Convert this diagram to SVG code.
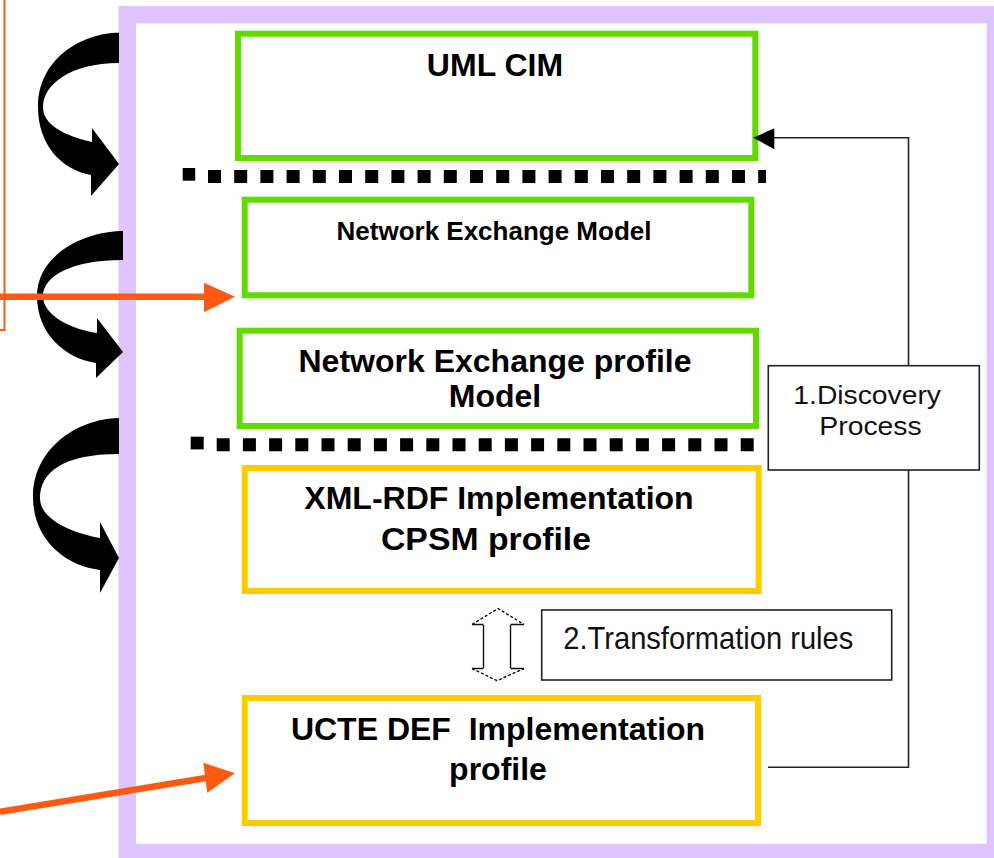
<svg xmlns="http://www.w3.org/2000/svg" width="994" height="858" viewBox="0 0 994 858">
<style>
.green{fill:none;stroke:#62D900;stroke-width:6}
.yellow{fill:none;stroke:#FFCC00;stroke-width:6}
.thin{fill:#fff;stroke:#222;stroke-width:1.6}
.lbl{font-family:"Liberation Sans",Arial,sans-serif;font-weight:bold;fill:#000;text-anchor:middle}
.note{font-family:"Liberation Sans",Arial,sans-serif;fill:#111;}
.dots{stroke:#000;stroke-width:13;fill:none}
.orange{stroke:#FF5A14;fill:none}
</style>
<rect width="994" height="858" fill="#fff"/>
<!-- frame -->
<rect id="frame" x="127.2" y="14.7" width="868.3" height="837.8" fill="#fff" stroke="#E0C4FE" stroke-width="17.5"/>

<!-- separators -->
<g id="separators">
<rect x="182.7" y="168" width="12.5" height="12.7" fill="#000"/>
<line class="dots" x1="208" y1="176.5" x2="766" y2="176.5" stroke-dasharray="13 13.2"/>
<rect x="190.7" y="436.7" width="13" height="12.7" fill="#000"/>
<line class="dots" x1="216.7" y1="444.8" x2="755" y2="444.8" stroke-dasharray="13 13.2"/>
</g>

<g id="node-uml-cim">
<rect class="green" x="238" y="33.7" width="517.3" height="124.3"/>
<text class="lbl" x="495" y="76" font-size="32">UML CIM</text>
</g>
<g id="node-network-exchange-model">
<rect class="green" x="244.7" y="199.7" width="506.6" height="95.6"/>
<text class="lbl" x="494" y="240" font-size="26">Network Exchange Model</text>
</g>
<g id="node-network-exchange-profile">
<rect class="green" x="239.7" y="330.7" width="516.3" height="95.3"/>
<text class="lbl" x="495" y="372" font-size="32">Network Exchange profile</text>
<text class="lbl" x="495" y="407" font-size="32">Model</text>
</g>
<g id="node-xml-rdf">
<rect class="yellow" x="244.7" y="468" width="514" height="123"/>
<text class="lbl" x="499" y="509" font-size="32">XML-RDF Implementation</text>
<text class="lbl" x="486" y="550" font-size="32" textLength="210" lengthAdjust="spacingAndGlyphs">CPSM profile</text>
</g>
<g id="node-ucte-def">
<rect class="yellow" x="244.7" y="698" width="513.3" height="125"/>
<text class="lbl" x="498" y="740" font-size="32" xml:space="preserve">UCTE DEF  Implementation</text>
<text class="lbl" x="498" y="780" font-size="32">profile</text>
</g>

<g id="connectors">
<!-- discovery loop -->
<polyline points="768,767.3 908.5,767.3 908.5,137.7 772,137.7" fill="none" stroke="#222" stroke-width="1.6"/>
<polygon points="753.3,137.7 774.3,128.3 774.3,149.3" fill="#000"/>
<!-- double arrow -->
<g stroke="#111" stroke-width="1.4" fill="none">
<path d="M483.5,625 V668 M510.5,625 V668 M472,624.5 H483.5 M510.5,624.5 H524 M472,668.5 H483.5 M510.5,668.5 H524"/>
<path d="M472,624.5 L498,608.5 L524,624.5 M472,668.5 L497,680.7 L524,668.5" stroke-dasharray="3 2"/>
</g>
<!-- curved black arrows -->
<path d="M119,32.7 C80,33 38,60 38,107 C38,145 62,170 91,175 L91,196 L119,164 L92,128 L92,142 C65,136 43,125 43,107 C43,85 70,63 119,63 Z" fill="#000"/>
<path d="M123,231 C84,231 37,255 37,296 C37,333 64,358 96,363 L96,378 L123,352 L97,318 L97,333 C70,329 43,315 43,296 C43,276 72,260 123,260 Z" fill="#000"/>
<path d="M119,418 C75,419 33,450 33,497 C33,540 66,566 100,570 L100,593 L119,558 L100,522 L100,538 C73,533 40,520 40,498 C40,473 62,454 119,454 Z" fill="#000"/>
<!-- orange arrows -->
<polyline class="orange" points="0,330 4.5,330 4.5,0" stroke-width="2"/>
<line class="orange" x1="0" y1="296.8" x2="210" y2="296.8" stroke-width="6.5"/>
<polygon points="235,296.8 204,282.7 204,312.3" fill="#FF5A14"/>
<line class="orange" x1="0" y1="811.7" x2="212" y2="777" stroke-width="6.5"/>
<polygon points="235,773.3 203.3,762.7 207.3,792.7" fill="#FF5A14"/>
</g>

<g id="node-discovery">
<rect class="thin" x="768.3" y="365.7" width="211" height="104.3"/>
<text class="note" x="793.3" y="404" font-size="26" textLength="147.7" lengthAdjust="spacingAndGlyphs">1.Discovery</text>
<text class="note" x="819.3" y="435" font-size="26" textLength="102.4" lengthAdjust="spacingAndGlyphs">Process</text>
</g>
<g id="node-transformation">
<rect class="thin" x="541.7" y="610" width="350" height="70"/>
<text class="note" x="563.3" y="649" font-size="32" textLength="290" lengthAdjust="spacingAndGlyphs">2.Transformation rules</text>
</g>
</svg>
